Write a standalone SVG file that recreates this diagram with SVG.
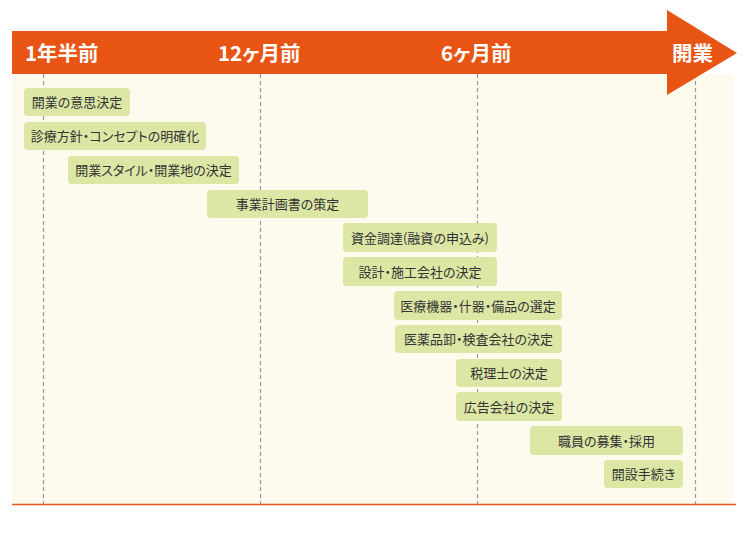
<svg xmlns="http://www.w3.org/2000/svg" width="750" height="534" viewBox="0 0 750 534">
<style>
.bar{fill:#dce6a5}
.bt{font-family:"Noto Sans CJK JP","Noto Sans",sans-serif;font-size:13px;fill:#333;text-anchor:middle;font-feature-settings:"palt"}
.hd{font-family:"Noto Sans CJK JP","Noto Sans",sans-serif;font-size:20.5px;font-weight:bold;fill:#fff;font-feature-settings:"palt"}
.dash{stroke:#9a9a9a;stroke-width:1.2;stroke-dasharray:4,3;fill:none}
</style>
<rect x="0" y="0" width="750" height="534" fill="#fff"/>
<rect x="12" y="74" width="721" height="430" fill="#fefaee"/>
<g id="connectors">
<line class="dash" x1="43.5" y1="74" x2="43.5" y2="504"/>
<line class="dash" x1="260.5" y1="74" x2="260.5" y2="504"/>
<line class="dash" x1="477.5" y1="74" x2="477.5" y2="504"/>
<line class="dash" x1="695.5" y1="74" x2="695.5" y2="504"/>
<line x1="12" y1="504.5" x2="736" y2="504.5" stroke="#e8571f" stroke-width="1.5"/>
</g>
<g id="timeline">
<path d="M12 31 H667 V10 L737 53 L667 95 V74 H12 Z" fill="#e85414"/>
<text class="hd" x="25" y="61">1年半前</text>
<text class="hd" x="218" y="61">12ヶ月前</text>
<text class="hd" x="441" y="61">6ヶ月前</text>
<text class="hd" x="672" y="61">開業</text>
</g>
<g id="n1"><rect class="bar" x="24" y="88" width="106" height="28" rx="4"/><text class="bt" x="77" y="107">開業の意思決定</text></g>
<g id="n2"><rect class="bar" x="24" y="122" width="182" height="28" rx="4"/><text class="bt" x="115" y="141">診療方針・コンセプトの明確化</text></g>
<g id="n3"><rect class="bar" x="68" y="156" width="171" height="28" rx="4"/><text class="bt" x="153.5" y="175">開業スタイル・開業地の決定</text></g>
<g id="n4"><rect class="bar" x="207" y="190" width="161" height="28" rx="4"/><text class="bt" x="287.5" y="209">事業計画書の策定</text></g>
<g id="n5"><rect class="bar" x="343" y="223" width="154" height="29" rx="4"/><text class="bt" x="420" y="242.5">資金調達(融資の申込み)</text></g>
<g id="n6"><rect class="bar" x="343" y="257" width="154" height="29" rx="4"/><text class="bt" x="420" y="276.5">設計・施工会社の決定</text></g>
<g id="n7"><rect class="bar" x="394" y="291" width="168" height="29" rx="4"/><text class="bt" x="478" y="310.5">医療機器・什器・備品の選定</text></g>
<g id="n8"><rect class="bar" x="395" y="325" width="167" height="28" rx="4"/><text class="bt" x="478.5" y="344">医薬品卸・検査会社の決定</text></g>
<g id="n9"><rect class="bar" x="456" y="359" width="106" height="28" rx="4"/><text class="bt" x="509" y="378">税理士の決定</text></g>
<g id="n10"><rect class="bar" x="456" y="392" width="106" height="29" rx="4"/><text class="bt" x="509" y="411.5">広告会社の決定</text></g>
<g id="n11"><rect class="bar" x="530" y="426" width="153" height="29" rx="4"/><text class="bt" x="606.5" y="445.5">職員の募集・採用</text></g>
<g id="n12"><rect class="bar" x="604" y="460" width="79" height="28" rx="4"/><text class="bt" x="643.5" y="479">開設手続き</text></g>
</svg>
